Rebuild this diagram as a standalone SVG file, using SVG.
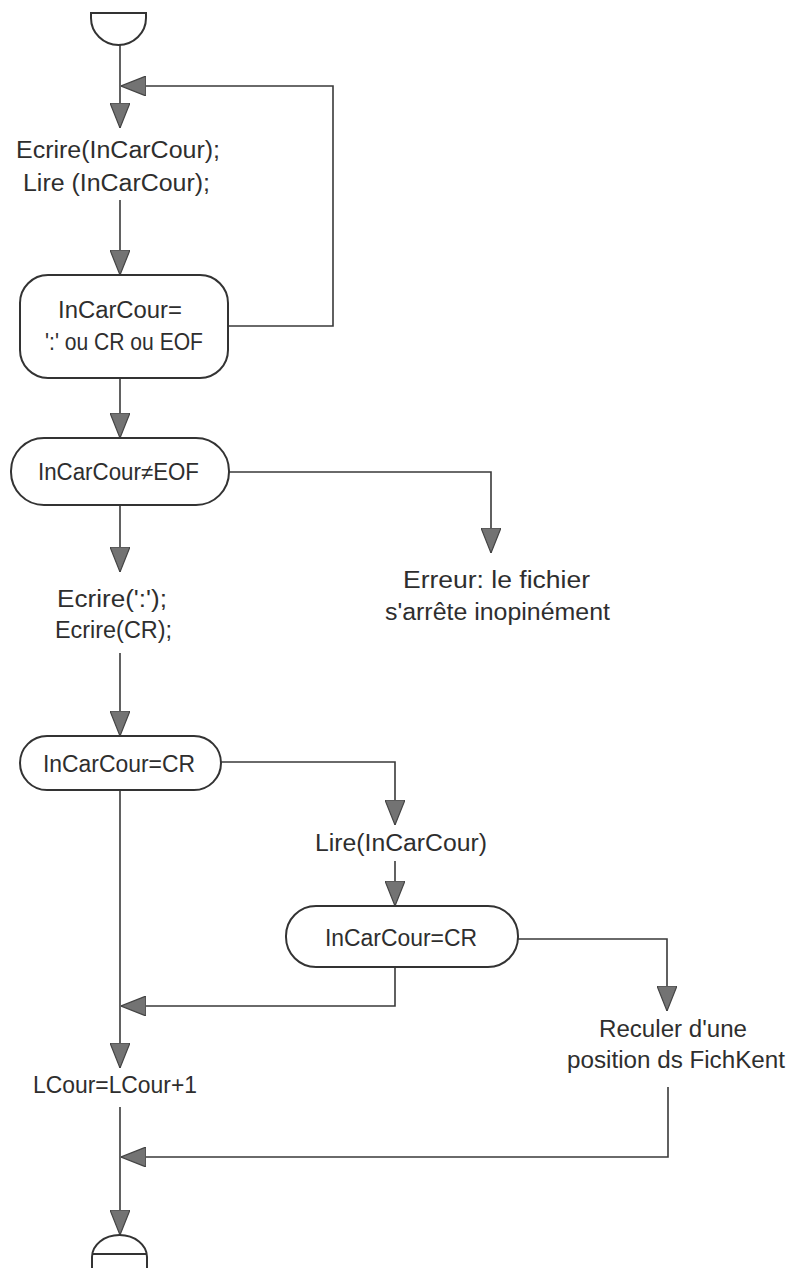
<svg xmlns="http://www.w3.org/2000/svg" width="789" height="1268" viewBox="0 0 789 1268">
  <defs>
    <style>
      .shape { fill: #ffffff; stroke: #333333; stroke-width: 2; }
      .link { fill: none; stroke: #3a3a3a; stroke-width: 1.6; }
      .lbl { font-family: "Liberation Sans", "DejaVu Sans", sans-serif; font-size: 23px; fill: #2e2e2e; }
    </style>
    <marker id="arrow" viewBox="0 0 25 20" refX="25" refY="10" markerWidth="25" markerHeight="20" markerUnits="userSpaceOnUse" orient="auto">
      <path d="M0,0 L25,10 L0,20 Z" fill="#737373" stroke="#444444" stroke-width="1.2"/>
    </marker>
  </defs>
  <rect width="789" height="1268" fill="#ffffff"/>

  <!-- connectors -->
  <g id="connectors" class="link" marker-end="url(#arrow)">
    <path d="M120,45 V128"/>
    <path d="M120,200 V275"/>
    <path d="M228,326 H333 V86 H121"/>
    <path d="M120,378 V438"/>
    <path d="M229,472 H491 V553"/>
    <path d="M120,505 V572"/>
    <path d="M120,653 V736"/>
    <path d="M221,762 H395 V825"/>
    <path d="M395,861 V906"/>
    <path d="M518,939 H667 V1011"/>
    <path d="M120,790 V1068"/>
    <path d="M395,967 V1006 H121"/>
    <path d="M120,1107 V1235"/>
    <path d="M668,1087 V1157 H121"/>
  </g>

  <!-- start -->
  <g id="start">
    <path class="shape" d="M91,13 H146 V18 A27.5,27 0 0 1 91,18 Z"/>
  </g>

  <g id="write-read">
    <text class="lbl" x="16" y="158" textLength="204" lengthAdjust="spacingAndGlyphs">Ecrire(InCarCour);</text>
    <text class="lbl" x="23" y="191" textLength="187" lengthAdjust="spacingAndGlyphs">Lire (InCarCour);</text>
  </g>

  <g id="test-separator">
    <rect class="shape" x="20" y="275" width="208" height="103" rx="28" ry="28"/>
    <text class="lbl" x="58" y="318" textLength="124" lengthAdjust="spacingAndGlyphs">InCarCour=</text>
    <text class="lbl" x="45" y="350" textLength="158" lengthAdjust="spacingAndGlyphs">':' ou CR ou EOF</text>
  </g>

  <g id="test-eof">
    <rect class="shape" x="11" y="438" width="218" height="67" rx="33" ry="33"/>
    <text class="lbl" x="38" y="480" textLength="161" lengthAdjust="spacingAndGlyphs">InCarCour≠EOF</text>
  </g>

  <g id="error">
    <text class="lbl" x="403" y="588" textLength="187" lengthAdjust="spacingAndGlyphs">Erreur: le fichier</text>
    <text class="lbl" x="385" y="620" textLength="225" lengthAdjust="spacingAndGlyphs">s'arrête inopinément</text>
  </g>

  <g id="write-sep">
    <text class="lbl" x="57" y="607" textLength="110" lengthAdjust="spacingAndGlyphs">Ecrire(':');</text>
    <text class="lbl" x="55" y="638" textLength="117" lengthAdjust="spacingAndGlyphs">Ecrire(CR);</text>
  </g>

  <g id="test-cr-1">
    <rect class="shape" x="20" y="736" width="201" height="54" rx="27" ry="27"/>
    <text class="lbl" x="43" y="772" textLength="152" lengthAdjust="spacingAndGlyphs">InCarCour=CR</text>
  </g>

  <g id="read-next">
    <text class="lbl" x="315" y="851" textLength="172" lengthAdjust="spacingAndGlyphs">Lire(InCarCour)</text>
  </g>

  <g id="test-cr-2">
    <rect class="shape" x="286" y="906" width="232" height="61" rx="30" ry="30"/>
    <text class="lbl" x="325" y="946" textLength="152" lengthAdjust="spacingAndGlyphs">InCarCour=CR</text>
  </g>

  <g id="step-back">
    <text class="lbl" x="599" y="1037" textLength="148" lengthAdjust="spacingAndGlyphs">Reculer d'une</text>
    <text class="lbl" x="567" y="1068" textLength="218" lengthAdjust="spacingAndGlyphs">position ds FichKent</text>
  </g>

  <g id="next-line">
    <text class="lbl" x="33" y="1093" textLength="164" lengthAdjust="spacingAndGlyphs">LCour=LCour+1</text>
  </g>

  <!-- end -->
  <g id="end">
    <path class="shape" d="M92,1270 V1257 A27.5,22 0 0 1 147,1257 V1270"/>
    <path class="shape" d="M92,1254 H147"/>
  </g>
</svg>
